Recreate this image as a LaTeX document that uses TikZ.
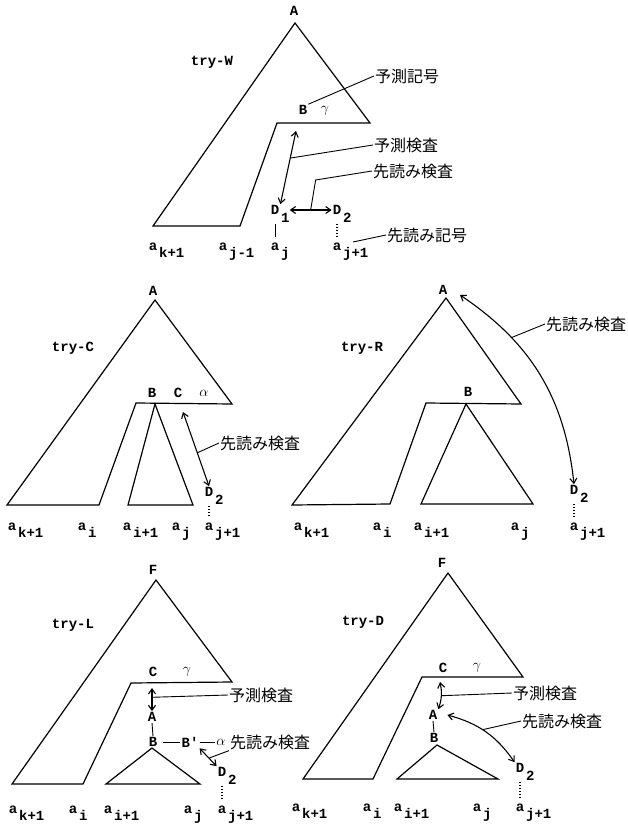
\documentclass[tikz,border=0pt]{standalone}
\usepackage{fontspec}
\setmonofont{Liberation Mono}
\newfontfamily\jpfont{Noto Sans CJK JP}
\usetikzlibrary{arrows.meta,positioning}

\begin{document}
\begin{tikzpicture}[
    x=1pt, y=-1pt,
    tree/.style={line width=1.2pt},
    chk/.style={
        {Straight Barb[length=5pt,width=7pt]}-{Straight Barb[length=5pt,width=7pt]},
        line width=1.1pt
    },
    lead/.style={line width=0.9pt},
    dots/.style={line width=1.1pt, dotted},
    lbl/.style={font=\ttfamily\bfseries\fontsize{14}{16}\selectfont, inner sep=1pt},
    sublbl/.style={lbl, anchor=base west, inner sep=0pt, xshift=0.5pt, yshift=#1},
    sublbl/.default=-10pt,
    jp/.style={font=\jpfont\fontsize{16}{18}\selectfont, anchor=west, inner sep=1pt}
]
    \useasboundingbox (0,0) rectangle (627,824);

    % try-W (top)
    \draw[tree] (295,23) -- (370,123) -- (277,123) -- (240,226) -- (153,226) -- cycle;
    \node[lbl] (wA) at (294,11) {A};
    \node[lbl] (wtry) at (212,62) {try-W};
    \node[lbl] (wB) at (303,110) {B};
    \node[lbl] (wg) at (325,111) {$\gamma$};
    \node[jp] (wpsym) at (374,76) {予測記号};
    \node[jp] (wpchk) at (373,145) {予測検査};
    \node[jp] (wlchk) at (372,171) {先読み検査};
    \node[jp] (wlsym) at (386,235) {先読み記号};

    \node[lbl, label={[sublbl=-12pt, name=wD1s]east:1}] (wD1) at (275,210) {D};
    \node[lbl, label={[sublbl=-12pt]east:2}] (wD2) at (337,210) {D};

    \node[lbl, label={[sublbl]east:k+1}] (wak) at (153,247) {a};
    \node[lbl, label={[sublbl]east:j-1}] (wajm) at (223,247) {a};
    \node[lbl, label={[sublbl]east:j}] (waj) at (275,247) {a};
    \node[lbl, label={[sublbl]east:j+1}] (wajp) at (337,247) {a};

    \coordinate (wtop) at (296,131);
    \coordinate (wlend) at (353,242);
    \draw[lead] (wB.north east) -- (wpsym.west);
    \draw[chk] (wtop) -- coordinate[pos=0.37] (wm1) (wD1.north east);
    \draw[lead] (wm1) -- (wpchk.west);
    \draw[chk] (wD1s.east |- wD1) -- coordinate[pos=0.5] (wm2) (wD2.west);
    \draw[lead] (wm2) -- ++(5,-30) -- (wlchk.west);
    \draw[lead, shorten <=8pt, shorten >=5pt] (wD1.south) -- (waj.north);
    \draw[dots, shorten <=8pt, shorten >=4pt] (wD2.south) -- (wajp.north);
    \draw[lead] (wlend) -- (wlsym.west);

    % try-C (middle left)
    \draw[tree] (155,300) -- (232,404) -- (136,403) -- (99,505) -- (7,505) -- cycle;
    \draw[tree] (155,404) -- (193,505) -- (128,505) -- cycle;
    \node[lbl] (cA) at (153,291) {A};
    \node[lbl] (ctry) at (73,348) {try-C};
    \node[lbl] (cB) at (152,393) {B};
    \node[lbl] (cC) at (178,393) {C};
    \node[lbl] (calpha) at (204,393) {$\alpha$};
    \node[jp] (clchk) at (219,443) {先読み検査};
    \node[lbl, label={[sublbl=-12pt]east:2}] (cD2) at (209,492) {D};

    \node[lbl, label={[sublbl]east:k+1}] (cak) at (12,527) {a};
    \node[lbl, label={[sublbl]east:i}] (cai) at (82,527) {a};
    \node[lbl, label={[sublbl]east:i+1}] (caip) at (127,527) {a};
    \node[lbl, label={[sublbl]east:j}] (caj) at (176,527) {a};
    \node[lbl, label={[sublbl]east:j+1}] (cajp) at (209,527) {a};

    \coordinate (ctop) at (183,412);
    \draw[chk] (ctop) -- coordinate[pos=0.55] (cm) (cD2.north);
    \draw[lead] (cm) -- (clchk.west);
    \draw[dots, shorten <=8pt, shorten >=4pt] (cD2.south) -- (cajp.north);

    % try-R (middle right)
    \draw[tree] (446,298) -- (521,404) -- (426,403) -- (390,504) -- (292,505) -- cycle;
    \draw[tree] (466,404) -- (533,504) -- (421,504) -- cycle;
    \node[lbl] (rA) at (443,290) {A};
    \node[lbl] (rtry) at (362,348) {try-R};
    \node[lbl] (rB) at (468,392) {B};
    \node[jp] (rlchk) at (545,324) {先読み検査};
    \node[lbl, label={[sublbl=-12pt]east:2}] (rD2) at (574,490) {D};

    \node[lbl, label={[sublbl]east:k+1}] (rak) at (298,527) {a};
    \node[lbl, label={[sublbl]east:i}] (rai) at (377,527) {a};
    \node[lbl, label={[sublbl]east:i+1}] (raip) at (418,527) {a};
    \node[lbl, label={[sublbl]east:j}] (raj) at (515,527) {a};
    \node[lbl, label={[sublbl]east:j+1}] (rajp) at (574,527) {a};

    \coordinate (rtop) at (460,295);
    \draw[chk] (rtop) to[bend left=25] coordinate[pos=0.28] (rm) (rD2.north);
    \draw[lead] (rm) -- (rlchk.west);
    \draw[dots, shorten <=8pt, shorten >=4pt] (rD2.south) -- (rajp.north);

    % try-L (bottom left)
    \draw[tree] (156,580) -- (232,682) -- (131,683) -- (83,784) -- (12,784) -- cycle;
    \draw[tree] (152,748) -- (200,784) -- (106,784) -- cycle;
    \node[lbl] (lF) at (153,570) {F};
    \node[lbl] (ltry) at (73,625) {try-L};
    \node[lbl] (lC) at (153,672) {C};
    \node[lbl] (lg) at (187,672) {$\gamma$};
    \node[lbl] (lA) at (152,717) {A};
    \node[lbl] (lB) at (153,742) {B};
    \node[lbl] (lBp) at (190,742) {B'};
    \node[lbl] (lalpha) at (221,742) {$\alpha$};
    \node[jp] (lpchk) at (228,695) {予測検査};
    \node[jp] (llchk) at (229,742) {先読み検査};
    \node[lbl, label={[sublbl=-12pt]east:2}] (lD2) at (222,772) {D};

    \node[lbl, label={[sublbl]east:k+1}] (lak) at (13,810) {a};
    \node[lbl, label={[sublbl]east:i}] (lai) at (73,810) {a};
    \node[lbl, label={[sublbl]east:i+1}] (laip) at (108,810) {a};
    \node[lbl, label={[sublbl]east:j}] (laj) at (188,810) {a};
    \node[lbl, label={[sublbl]east:j+1}] (lajp) at (222,810) {a};

    \coordinate (ltop) at (152,688);
    \draw[chk] (ltop) -- coordinate[pos=0.4] (lm1) (lA.north);
    \draw[lead] (lm1) -- (lpchk.west);
    \draw[lead] (lA.south) -- (lB.north);
    \draw[lead, shorten <=5pt] (lB.east) -- (lBp.west);
    \draw[lead] (lBp.east) -- (lalpha.west);
    \draw[chk] (lBp.south east) -- coordinate[pos=0.55] (lm2) (lD2.north west);
    \draw[lead] (lm2) -- (llchk.south west);
    \draw[dots, shorten <=8pt, shorten >=4pt] (lD2.south) -- (lajp.north);

    % try-D (bottom right)
    \draw[tree] (448,573) -- (523,677) -- (422,677) -- (373,779) -- (303,779) -- cycle;
    \draw[tree] (437,745) -- (498,779) -- (397,779) -- cycle;
    \node[lbl] (dF) at (442,563) {F};
    \node[lbl] (dtry) at (363,622) {try-D};
    \node[lbl] (dC) at (443,668) {C};
    \node[lbl] (dg) at (477,668) {$\gamma$};
    \node[lbl] (dA) at (433,715) {A};
    \node[lbl] (dB) at (434,738) {B};
    \node[jp] (dpchk) at (512,693) {予測検査};
    \node[jp] (dlchk) at (521,721) {先読み検査};
    \node[lbl, label={[sublbl=-12pt]east:2}] (dD2) at (520,768) {D};

    \node[lbl, label={[sublbl]east:k+1}] (dak) at (296,808) {a};
    \node[lbl, label={[sublbl]east:i}] (dai) at (367,808) {a};
    \node[lbl, label={[sublbl]east:i+1}] (daip) at (398,808) {a};
    \node[lbl, label={[sublbl]east:j}] (daj) at (477,808) {a};
    \node[lbl, label={[sublbl]east:j+1}] (dajp) at (520,808) {a};

    \coordinate (dtop) at (440,682);
    \draw[chk] (dtop) to[bend left=15] coordinate[pos=0.5] (dm1) (dA.north east);
    \draw[lead] (dm1) -- (dpchk.west);
    \draw[lead] (dA.south) -- (dB.north);
    \draw[chk] ([xshift=9pt]dA.east) to[bend left=20] coordinate[pos=0.45] (dm2) (dD2.north west);
    \draw[lead] (dm2) -- (dlchk.west);
    \draw[dots, shorten <=8pt, shorten >=4pt] (dD2.south) -- (dajp.north);

\end{tikzpicture}
\end{document}
